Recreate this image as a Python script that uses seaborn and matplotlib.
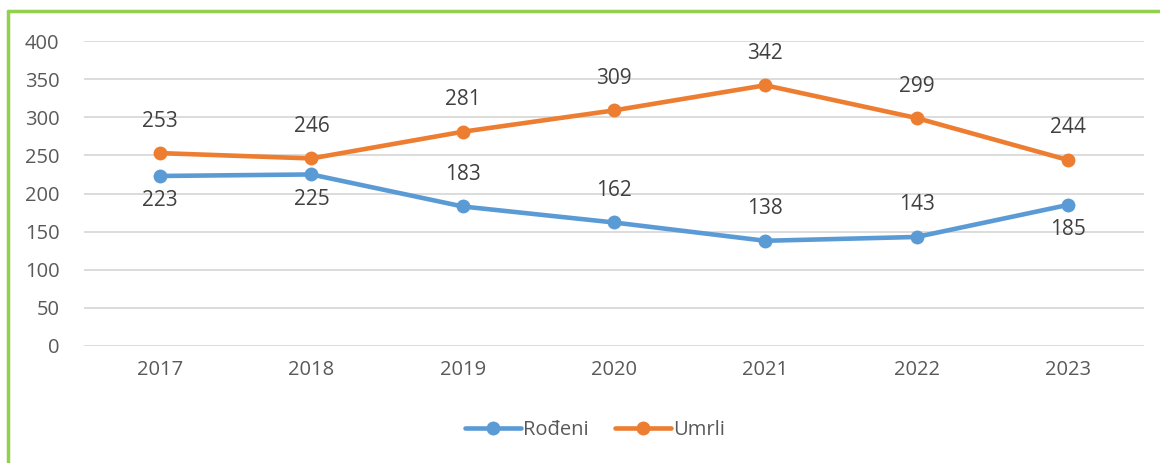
import matplotlib
matplotlib.use('Agg')
import matplotlib.pyplot as plt
import pandas as pd
import seaborn as sns
from matplotlib.lines import Line2D

# Data
years = ['2017', '2018', '2019', '2020', '2021', '2022', '2023']
rodjeni = [223, 225, 183, 162, 138, 143, 185]
umrli = [253, 246, 281, 309, 342, 299, 244]
series_names = ['Rođeni', 'Umrli']
# where each data label sits: +1 above the point, -1 below
rodjeni_label_side = [-1, -1, 1, 1, 1, 1, -1]
umrli_label_side = [1, 1, 1, 1, 1, 1, 1]

colors = {'Rođeni': '#5B9BD5', 'Umrli': '#ED7D31'}

df = pd.DataFrame({
    'year': years * 2,
    'value': rodjeni + umrli,
    'series': [series_names[0]] * len(years) + [series_names[1]] * len(years),
})

sns.set_style('white')
plt.rcParams['font.family'] = ['Open Sans', 'DejaVu Sans']

fig = plt.figure(figsize=(11.6, 4.63), dpi=100)
ax = fig.add_axes([0.0728, 0.2527, 0.9130, 0.6587])

sns.lineplot(data=df, x='year', y='value', hue='series', palette=colors,
             marker='o', markersize=10, markeredgewidth=0, linewidth=3.3,
             sort=False, ax=ax, legend=False)

ax.set_xlim(-0.5, len(years) - 0.5)
ax.set_ylim(0, 400)
ax.set_yticks(range(0, 401, 50))
ax.set_xlabel('')
ax.set_ylabel('')
ax.grid(axis='y', color='#D9D9D9', linewidth=1.3)
ax.set_axisbelow(True)
for s in ax.spines.values():
    s.set_visible(False)
ax.tick_params(axis='both', length=0, labelsize=14.5, labelcolor='#595959')
ax.tick_params(axis='y', pad=18)
ax.tick_params(axis='x', pad=10)

# data labels
for vals, sides in [(rodjeni, rodjeni_label_side), (umrli, umrli_label_side)]:
    for i, (v, side) in enumerate(zip(vals, sides)):
        ax.annotate(str(v), (i, v), textcoords='offset pixels',
                    xytext=(0, 32 if side > 0 else -25),
                    ha='center', va='center', fontsize=15, color='#404040')

handles = [Line2D([], [], color=colors[n], linewidth=3.3, marker='o',
                  markersize=10, markeredgewidth=0) for n in series_names]
fig.legend(handles, series_names, loc='center', bbox_to_anchor=(0.513, 0.071),
           ncol=2, frameon=False, fontsize=14.5, labelcolor='#595959',
           handlelength=2.8, handletextpad=0.1, columnspacing=1.3)

# green frame (top and left edges visible in the reference)
fig.add_artist(Line2D([8 / 1160, 1], [1 - 11 / 463, 1 - 11 / 463],
                      transform=fig.transFigure, color='#92D050', linewidth=2.5))
fig.add_artist(Line2D([8 / 1160, 8 / 1160], [0, 1 - 11 / 463],
                      transform=fig.transFigure, color='#92D050', linewidth=2.5))

fig.savefig('out.png', dpi=100)
